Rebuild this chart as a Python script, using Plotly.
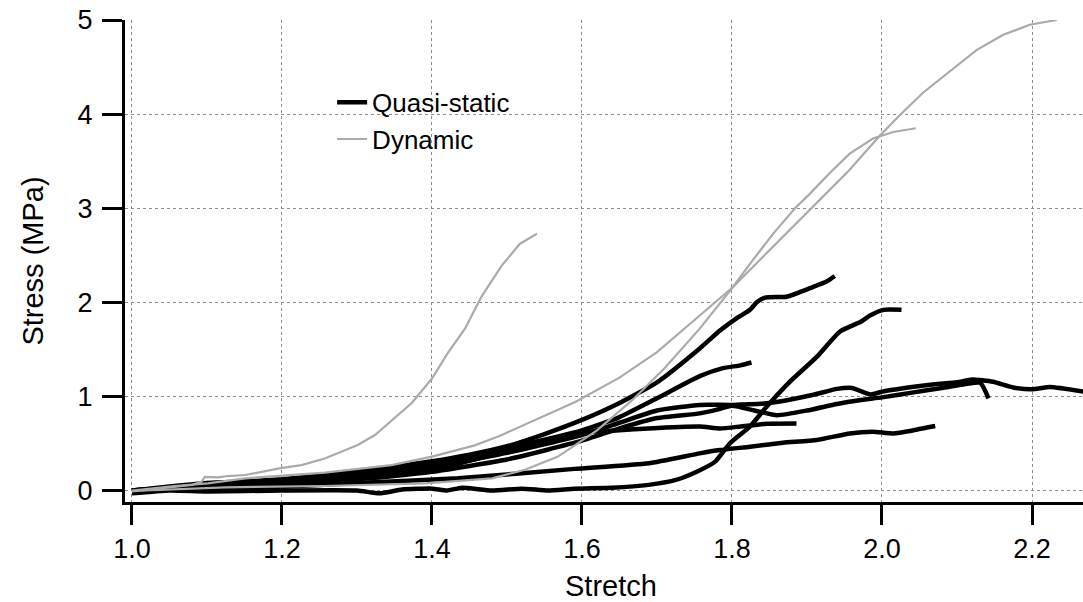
import plotly.graph_objects as go

# ---------------- data ----------------
# Quasi-static tests (black)
q1_x = [1.0, 1.05, 1.1, 1.2, 1.3, 1.4, 1.45, 1.5, 1.55, 1.6, 1.65, 1.7, 1.757, 1.784, 1.806, 1.824, 1.833, 1.844, 1.873, 1.891, 1.904, 1.926, 1.937]
q1_y = [0.0, 0.03, 0.07, 0.12, 0.2, 0.31, 0.38, 0.47, 0.6, 0.75, 0.93, 1.15, 1.51, 1.70, 1.83, 1.92, 2.0, 2.05, 2.06, 2.11, 2.15, 2.22, 2.28]

q2_x = [1.0, 1.05, 1.1, 1.2, 1.3, 1.33, 1.36, 1.4, 1.42, 1.44, 1.48, 1.52, 1.555, 1.59, 1.64, 1.689, 1.724, 1.753, 1.778, 1.797, 1.824, 1.846, 1.877, 1.913, 1.944, 1.971, 1.984, 2.002, 2.026]
q2_y = [-0.03, 0.0, -0.01, 0.0, 0.0, -0.03, 0.01, 0.02, 0.0, 0.03, 0.0, 0.02, 0.0, 0.02, 0.03, 0.06, 0.11, 0.2, 0.31, 0.5, 0.68, 0.89, 1.155, 1.42, 1.69, 1.79, 1.86, 1.92, 1.92]

q3_x = [1.0, 1.1, 1.2, 1.3, 1.4, 1.5, 1.6, 1.65, 1.7, 1.757, 1.788, 1.811, 1.826]
q3_y = [0.0, 0.08, 0.11, 0.19, 0.28, 0.45, 0.64, 0.78, 0.98, 1.215, 1.30, 1.33, 1.36]

q4_x = [1.0, 1.1, 1.2, 1.3, 1.4, 1.5, 1.6, 1.65, 1.7, 1.757, 1.8, 1.85, 1.88, 1.91, 1.94, 1.96, 1.985, 2.0, 2.04, 2.07, 2.1, 2.12, 2.148, 2.175, 2.2, 2.224, 2.27]
q4_y = [0.0, 0.06, 0.1, 0.17, 0.25, 0.4, 0.59, 0.72, 0.85, 0.91, 0.91, 0.93, 0.97, 1.02, 1.08, 1.09, 1.02, 1.05, 1.1, 1.13, 1.15, 1.18, 1.155, 1.095, 1.075, 1.10, 1.05]

q5_x = [1.0, 1.1, 1.2, 1.3, 1.4, 1.5, 1.6, 1.65, 1.7, 1.757, 1.78, 1.8, 1.83, 1.86, 1.9, 1.94, 1.97, 2.0, 2.04, 2.08, 2.11, 2.131, 2.142]
q5_y = [0.0, 0.04, 0.07, 0.12, 0.2, 0.33, 0.53, 0.66, 0.77, 0.82, 0.86, 0.9, 0.85, 0.80, 0.85, 0.92, 0.96, 0.99, 1.04, 1.09, 1.13, 1.145, 0.98]

q6_x = [1.0, 1.1, 1.2, 1.3, 1.4, 1.5, 1.59, 1.65, 1.689, 1.757, 1.784, 1.811, 1.846, 1.886]
q6_y = [0.0, 0.05, 0.08, 0.15, 0.22, 0.42, 0.61, 0.64, 0.66, 0.68, 0.66, 0.68, 0.71, 0.713]

q7_x = [1.0, 1.1, 1.2, 1.3, 1.435, 1.59, 1.689, 1.757, 1.784, 1.824, 1.868, 1.913, 1.957, 1.988, 2.015, 2.042, 2.071]
q7_y = [0.0, 0.02, 0.04, 0.08, 0.13, 0.23, 0.29, 0.395, 0.43, 0.465, 0.507, 0.536, 0.607, 0.625, 0.607, 0.64, 0.685]

# Dynamic tests (grey)
d1_x = [1.0, 1.035, 1.08, 1.093, 1.097, 1.115, 1.128, 1.151, 1.2, 1.226, 1.257, 1.301, 1.324, 1.373, 1.4, 1.421, 1.444, 1.466, 1.493, 1.517, 1.54]
d1_y = [-0.01, 0.02, 0.06, 0.094, 0.146, 0.14, 0.154, 0.165, 0.24, 0.27, 0.34, 0.483, 0.59, 0.93, 1.19, 1.46, 1.72, 2.06, 2.39, 2.62, 2.73]

d2_x = [1.0, 1.057, 1.101, 1.151, 1.257, 1.346, 1.4, 1.457, 1.49, 1.591, 1.65, 1.7, 1.757, 1.801, 1.837, 1.872, 1.906, 1.956, 1.997, 2.024, 2.055, 2.091, 2.126, 2.161, 2.197, 2.233]
d2_y = [0.0, 0.048, 0.076, 0.13, 0.19, 0.27, 0.36, 0.48, 0.58, 0.94, 1.2, 1.47, 1.86, 2.16, 2.45, 2.73, 3.0, 3.40, 3.77, 3.99, 4.23, 4.46, 4.68, 4.84, 4.95, 5.0]

d3_x = [1.0, 1.124, 1.257, 1.391, 1.48, 1.524, 1.568, 1.591, 1.62, 1.667, 1.71, 1.757, 1.801, 1.828, 1.855, 1.884, 1.904, 1.931, 1.957, 1.988, 2.015, 2.045]
d3_y = [-0.005, 0.034, 0.048, 0.076, 0.13, 0.22, 0.36, 0.48, 0.64, 0.96, 1.3, 1.72, 2.16, 2.45, 2.73, 3.0, 3.155, 3.38, 3.58, 3.74, 3.81, 3.85]

quasi_static = [(q1_x, q1_y), (q2_x, q2_y), (q3_x, q3_y), (q4_x, q4_y),
                (q5_x, q5_y), (q6_x, q6_y), (q7_x, q7_y)]
dynamic = [(d1_x, d1_y), (d2_x, d2_y), (d3_x, d3_y)]

x_ticks = [1.0, 1.2, 1.4, 1.6, 1.8, 2.0, 2.2]
x_tick_labels = ["1.0", "1.2", "1.4", "1.6", "1.8", "2.0", "2.2"]
y_ticks = [0, 1, 2, 3, 4, 5]
x_title = "Stretch"
y_title = "Stress (MPa)"

FONT = "Liberation Sans, Arial, sans-serif"

fig = go.Figure()
for i, (xs, ys) in enumerate(quasi_static):
    fig.add_trace(go.Scatter(
        x=xs, y=ys, mode="lines", name="Quasi-static",
        legendgroup="qs", showlegend=(i == 0),
        line=dict(color="black", width=4.5, shape="spline", smoothing=0.5),
        hoverinfo="skip"))
for i, (xs, ys) in enumerate(dynamic):
    fig.add_trace(go.Scatter(
        x=xs, y=ys, mode="lines", name="Dynamic",
        legendgroup="dyn", showlegend=(i == 0),
        line=dict(color="#aaaaaa", width=2.2),
        hoverinfo="skip"))

axis_common = dict(
    showline=True, linecolor="black", linewidth=3,
    ticks="outside", ticklen=20, tickwidth=3, tickcolor="black",
    showgrid=True, gridcolor="#8c8c8c", gridwidth=1, griddash="dot",
    zeroline=False, mirror=False,
    tickfont=dict(family=FONT, size=27, color="black"),
)

fig.update_xaxes(
    range=[0.9907, 2.268], tickvals=x_ticks, ticktext=x_tick_labels,
    ticklabelstandoff=1,
    **axis_common)
fig.update_yaxes(
    range=[-0.122, 5.0], tickvals=y_ticks,
    title=dict(text=y_title, font=dict(family=FONT, size=29, color="black"), standoff=26),
    ticklabelstandoff=4,
    **axis_common)

# x-axis title placed as a paper-anchored annotation below the tick labels
fig.add_annotation(
    text=x_title, xref="paper", yref="paper", x=0.507, y=-0.1743,
    xanchor="center", yanchor="middle", showarrow=False,
    font=dict(family=FONT, size=29, color="black"))

fig.update_layout(
    width=1083, height=602,
    margin=dict(l=125, r=0, t=20, b=100),
    paper_bgcolor="white", plot_bgcolor="white",
    font=dict(family=FONT, color="black"),
    showlegend=True,
    legend=dict(x=0.2162, y=0.878, xanchor="left", yanchor="top",
                bgcolor="rgba(0,0,0,0)", borderwidth=0,
                font=dict(family=FONT, size=26, color="black"),
                tracegroupgap=0),
)

fig.write_html("out.html")
